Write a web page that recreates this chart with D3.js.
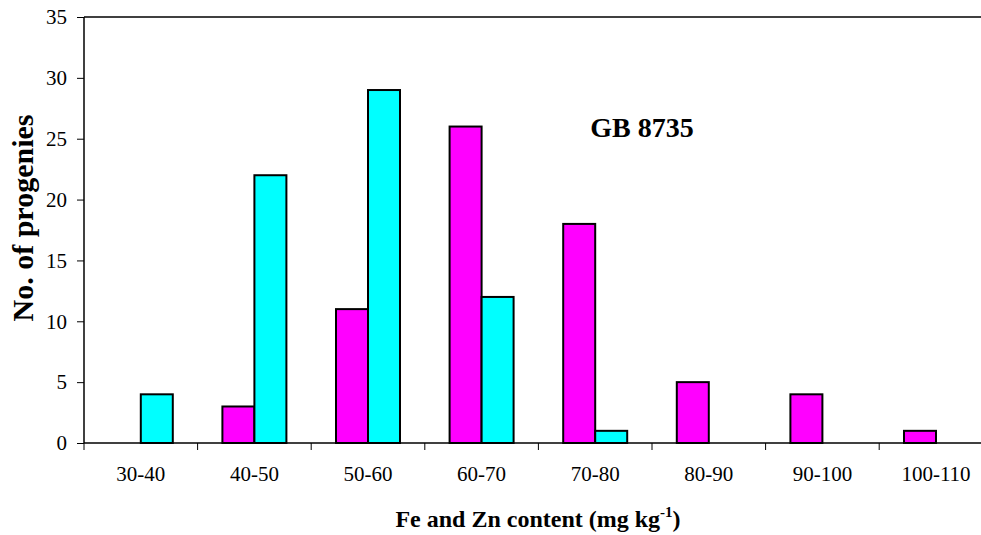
<!DOCTYPE html>
<html><head><meta charset="utf-8">
<script src="https://cdn.jsdelivr.net/npm/d3@7"></script>
<style>body{margin:0;background:#fff}svg{display:block}text{font-family:"Liberation Serif","Times New Roman",serif}</style>
</head><body><svg id="c" width="981" height="535"></svg>
<script>
const categories = ["30-40","40-50","50-60","60-70","70-80","80-90","90-100","100-110"];
const feValues = [0,3,11,26,18,5,4,1];
const znValues = [4,22,29,12,1,0,0,0];
const seriesNames = ["Fe","Zn"];
const seriesColors = ["#ff00ff","#00ffff"];
const yTicks = [0,5,10,15,20,25,30,35];

(function(){
const svg = d3.select("#c");
const mLeft = 84, mTop = 17, mBottom = 443, mRight = 84 + 8*113.6;
const x = d3.scaleBand().domain(categories).range([mLeft, mRight]).paddingInner(0).paddingOuter(0);
const inner = d3.scaleBand().domain(seriesNames).range([0, 64]);
const y = d3.scaleLinear().domain([0,35]).range([mBottom, mTop]);

const data = categories.map((c,i)=>({cat:c, vals:[feValues[i], znValues[i]]}));

svg.append("line").attr("x1", mLeft).attr("x2", 981).attr("y1", mTop).attr("y2", mTop)
  .attr("stroke","#000").attr("stroke-width",1.5);

const g = svg.append("g");
data.forEach(d=>{
  d.vals.forEach((v,j)=>{
    if (v<=0) return;
    const x0 = x(d.cat) + x.bandwidth()/2 - 32 + inner(seriesNames[j]);
    g.append("rect").attr("x", x0).attr("y", y(v)).attr("width", inner.bandwidth()).attr("height", y(0)-y(v))
      .attr("fill", seriesColors[j]).attr("stroke","#000").attr("stroke-width",2);
  });
});

const ya = svg.append("g").attr("transform",`translate(${mLeft},0)`)
  .call(d3.axisLeft(y).tickValues(yTicks).tickSize(7).tickPadding(10));
ya.select(".domain").attr("stroke","#000").attr("stroke-width",1.5).attr("d",`M0,${mTop}V${mBottom}`);
ya.selectAll(".tick line").attr("stroke","#000").attr("stroke-width",1);
ya.selectAll(".tick text").attr("font-size",21).attr("fill","#000").style("font-family","Liberation Serif");

const xa = svg.append("g").attr("transform",`translate(0,${mBottom})`)
  .call(d3.axisBottom(x).tickSize(0).tickPadding(23));
xa.select(".domain").attr("stroke","#000").attr("stroke-width",1.5).attr("d",`M${mLeft},0H981`);
xa.selectAll(".tick text").attr("font-size",21).attr("fill","#000").style("font-family","Liberation Serif");
const bounds = categories.map(c=>x(c)).concat([mRight]);
svg.append("g").selectAll("line").data(bounds.filter(b=>b<=981)).join("line")
  .attr("x1",d=>d).attr("x2",d=>d).attr("y1",mBottom).attr("y2",mBottom+7)
  .attr("stroke","#000").attr("stroke-width",1);

const xt = svg.append("text").attr("x", 538).attr("y", 527).attr("text-anchor","middle")
  .attr("font-size",24).attr("font-weight","bold");
xt.append("tspan").text("Fe and Zn content (mg kg");
xt.append("tspan").attr("font-size",15).attr("dy",-10).text("-1");
xt.append("tspan").attr("dy",10).text(")");

svg.append("text").attr("transform",`translate(33,218) rotate(-90)`).attr("text-anchor","middle")
  .attr("font-size",30).attr("font-weight","bold").text("No. of progenies");

svg.append("text").attr("x",642).attr("y",137).attr("text-anchor","middle")
  .attr("font-size",28).attr("font-weight","bold").text("GB 8735");
})();
</script></body></html>
